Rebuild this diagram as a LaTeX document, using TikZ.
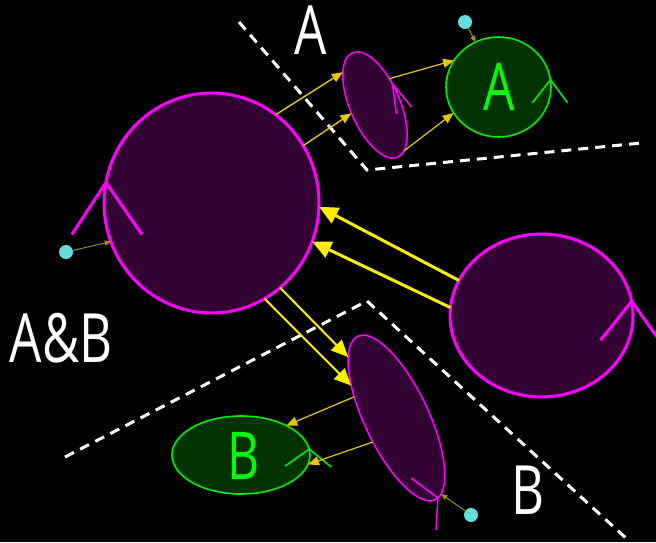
\documentclass[tikz,border=0pt]{standalone}
\usepackage{fontspec}
\setmainfont{Open Sans}
\usetikzlibrary{shapes.geometric,arrows.meta}
\definecolor{mag}{HTML}{FF00FF}
\definecolor{plum}{HTML}{330033}
\definecolor{grn}{HTML}{00EE00}
\definecolor{dgrn}{HTML}{003300}
\definecolor{gtext}{HTML}{00FF00}
\definecolor{ylw}{HTML}{FFEE00}
\definecolor{oyl}{HTML}{E6C800}
\definecolor{dyl}{HTML}{AA9900}
\definecolor{cyn}{HTML}{66DDDD}
\begin{document}
\begin{tikzpicture}[x=1pt,y=-1pt,
  blob/.style={ellipse, draw=mag, fill=plum, inner sep=0pt, outer sep=0pt},
  gblob/.style={ellipse, draw=grn, fill=dgrn, line width=1.6pt, inner sep=0pt, outer sep=0pt},
  wlabel/.style={text=white, font=\fontsize{68}{68}\selectfont, inner sep=0pt, xscale=0.75},
  glabel/.style={text=gtext, font=\fontsize{66}{66}\selectfont, inner sep=0pt, xscale=0.75},
  dot/.style={circle, fill=cyn, minimum size=14pt, inner sep=0pt},
  fat/.style={draw=ylw, line width=3pt, -{Triangle[length=19pt,width=17pt]}},
  med/.style={draw=ylw, line width=2pt, -{Triangle[length=17pt,width=15pt]}},
  thinarr/.style={draw=oyl, line width=1.4pt, -{Triangle[length=11pt,width=9pt]}},
  thinarrb/.style={draw=oyl, line width=1.2pt, -{Triangle[length=11pt,width=9pt]}},
  tinyarr/.style={draw=dyl, line width=0.9pt, -{Triangle[length=6pt,width=5pt]}},
  dashline/.style={draw=white, line width=3pt, dash pattern=on 10pt off 7pt},
  markm/.style={draw=mag, line width=3pt},
  markmt/.style={draw=mag, line width=1.5pt},
  markg/.style={draw=grn, line width=1.6pt}]
\fill[black] (0,0) rectangle (656,542);
\useasboundingbox (0,0) rectangle (656,542);
% dashed boundaries
\draw[dashline] (239,22) -- (367,170) -- (641,143);
\draw[dashline] (65,457) -- (367,301) -- (628,540);
% shapes
\node[blob, line width=3pt, minimum width=215pt, minimum height=220pt] (bc) at (211.5,203) {};
\node[blob, line width=3pt, minimum width=183pt, minimum height=163pt] (rc) at (541.5,315.5) {};
\node[blob, line width=1.5pt, minimum width=114pt, minimum height=50pt, rotate=-66.6] (te) at (375,105) {};
\node[blob, line width=1.5pt, minimum width=181pt, minimum height=64pt, rotate=-64.6] (be) at (396.5,418) {};
\node[gblob, minimum width=105pt, minimum height=100pt] (ga) at (498.5,87) {};
\node[gblob, minimum width=138pt, minimum height=78pt] (gb) at (241,455) {};
\node[glabel] (ta) at (499.5,87) {A};
\node[glabel] (tb) at (243.5,456) {B};
\node[wlabel] (la) at (311,30) {A};
\node[wlabel] (lab) at (61,338) {A\&B};
\node[wlabel] (lb) at (528,490) {B};
% dots
\node[dot] (d1) at (66,252) {};
\node[dot] (d2) at (465,22) {};
\node[dot] (d3) at (471,515) {};
% marks
\draw[markm] ([shift={(-34,52)}]bc.169.2) -- (bc.169.2) -- ++(36,52);
\draw[markm] ([shift={(-31,39)}]rc.9.8) -- (rc.9.8) -- ++(27,38);
\draw[markmt] ([shift={(4,30)}]te.117.3) -- (te.117.3) -- ++(19,23);
\draw[markmt] ([shift={(-27,-20)}]be.2.9) -- (be.2.9) -- ++(-2,32);
\draw[markg] ([shift={(-18,23)}]ga.8.8) -- (ga.8.8) -- ++(17,23);
\draw[markg] ([shift={(-24,17)}]gb.5) -- (gb.5) -- ++(22,18);
% arrows
\draw[fat] (rc.157.4) -- (bc.-2.2);
\draw[fat] (rc.175.2) -- (bc.-21.5);
\draw[med] (bc.-51.9) -- (be.193.2);
\draw[med] (bc.-61.8) -- (be.209.9);
\draw[thinarr] (bc.54.4) -- (te.201.6);
\draw[thinarr] (bc.32.7) -- (te.266.6);
\draw[thinarrb] (te.128.4) -- (ga.149.1);
\draw[thinarrb] (te.9.6) -- (ga.210.3);
\draw[thinarrb] (be.218.3) -- (gb.33.7);
\draw[thinarrb] (be.290.1) -- (gb.-8.9);
\draw[tinyarr] (d1) -- (bc.201);
\draw[tinyarr] (d2) -- (ga.117.1);
\draw[tinyarr] (d3) -- (be.5.5);
\end{tikzpicture}
\end{document}
